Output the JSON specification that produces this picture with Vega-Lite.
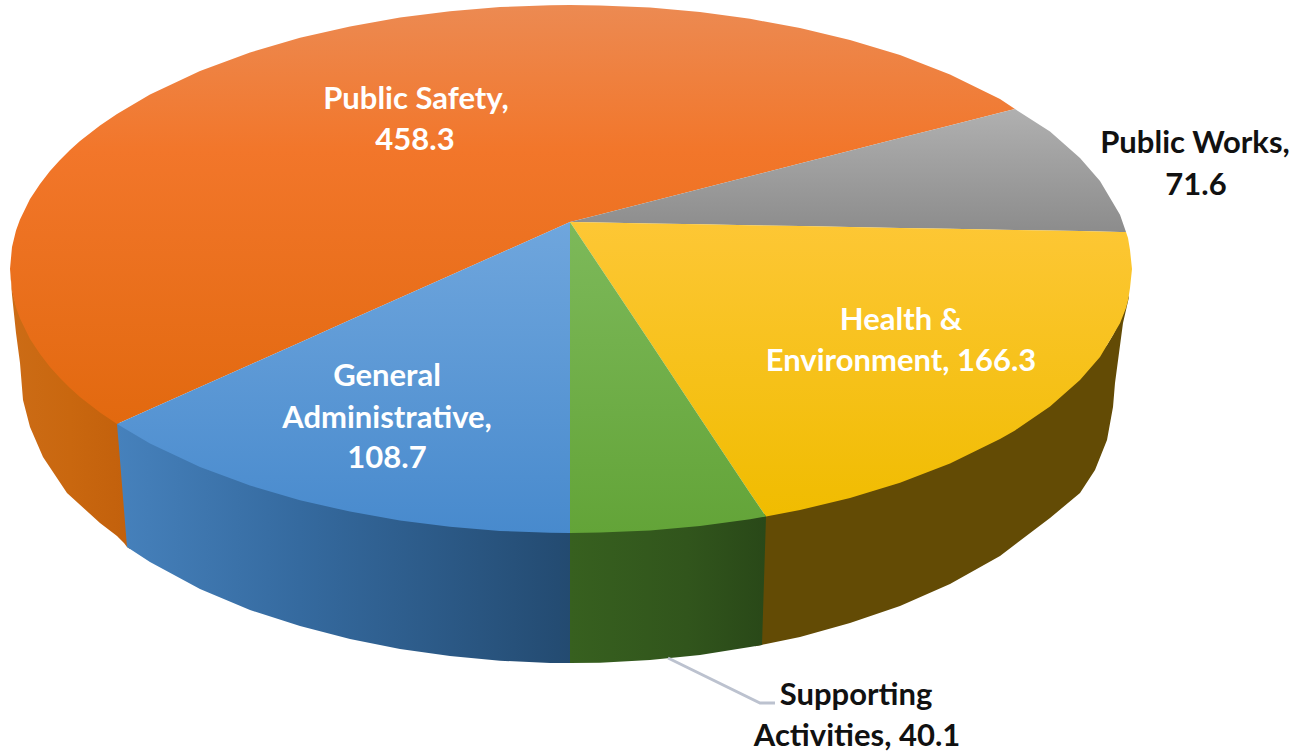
{"$schema":"https://vega.github.io/schema/vega-lite/v6.json","width":1292,"height":754,"padding":0,"autosize":"none","background":"white","config":{"view":{"stroke":null}},
"data":{"values":[
{"p":"safetyTop","x":10,"y":269,"y2":269},{"p":"safetyTop","x":12,"y":247,"y2":291},{"p":"safetyTop","x":16,"y":230.5,"y2":307.5},{"p":"safetyTop","x":20,"y":219.4,"y2":318.6},{"p":"safetyTop","x":30,"y":199,"y2":339},{"p":"safetyTop","x":40,"y":184,"y2":354},{"p":"safetyTop","x":50,"y":171,"y2":367},{"p":"safetyTop","x":60,"y":160,"y2":378},{"p":"safetyTop","x":70,"y":150,"y2":388},{"p":"safetyTop","x":80,"y":141,"y2":397},{"p":"safetyTop","x":100,"y":125.6,"y2":412.4},{"p":"safetyTop","x":117,"y":114,"y2":424},{"p":"safetyTop","x":150,"y":94.5,"y2":409.3},{"p":"safetyTop","x":200,"y":71,"y2":387},{"p":"safetyTop","x":250,"y":52.5,"y2":364.7},{"p":"safetyTop","x":300,"y":37.8,"y2":342.4},{"p":"safetyTop","x":350,"y":26.4,"y2":320.1},{"p":"safetyTop","x":400,"y":17.6,"y2":297.8},{"p":"safetyTop","x":450,"y":11.2,"y2":275.5},{"p":"safetyTop","x":500,"y":7,"y2":253.2},{"p":"safetyTop","x":550,"y":5.2,"y2":230.9},{"p":"safetyTop","x":570,"y":5,"y2":222},{"p":"safetyTop","x":600,"y":5.4,"y2":214.4},{"p":"safetyTop","x":650,"y":7.6,"y2":201.7},{"p":"safetyTop","x":700,"y":12,"y2":189},{"p":"safetyTop","x":750,"y":18.8,"y2":176.3},{"p":"safetyTop","x":800,"y":28,"y2":163.4},{"p":"safetyTop","x":850,"y":40,"y2":150.7},{"p":"safetyTop","x":900,"y":55,"y2":138},{"p":"safetyTop","x":950,"y":74.4,"y2":125.5},{"p":"safetyTop","x":1000,"y":98.9,"y2":112.8},{"p":"safetyTop","x":1015,"y":109,"y2":109},
{"p":"worksTop","x":570,"y":222,"y2":222},{"p":"worksTop","x":600,"y":214.4,"y2":222.5},{"p":"worksTop","x":650,"y":201.7,"y2":223.4},{"p":"worksTop","x":700,"y":189,"y2":224.3},{"p":"worksTop","x":750,"y":176.3,"y2":225.2},{"p":"worksTop","x":800,"y":163.4,"y2":226.1},{"p":"worksTop","x":850,"y":150.7,"y2":227},{"p":"worksTop","x":900,"y":138,"y2":227.9},{"p":"worksTop","x":950,"y":125.5,"y2":228.8},{"p":"worksTop","x":1000,"y":112.8,"y2":229.7},{"p":"worksTop","x":1015,"y":109,"y2":230},{"p":"worksTop","x":1050,"y":131.6,"y2":230.6},{"p":"worksTop","x":1080,"y":158,"y2":231.1},{"p":"worksTop","x":1100,"y":181,"y2":231.5},{"p":"worksTop","x":1120,"y":214.7,"y2":231.9},{"p":"worksTop","x":1126,"y":232,"y2":232},
{"p":"healthTop","x":570,"y":222,"y2":222},{"p":"healthTop","x":600,"y":222.5,"y2":267},{"p":"healthTop","x":650,"y":223.4,"y2":342},{"p":"healthTop","x":700,"y":224.3,"y2":417.7},{"p":"healthTop","x":750,"y":225.2,"y2":493},{"p":"healthTop","x":766,"y":225.5,"y2":516.5},{"p":"healthTop","x":800,"y":226.1,"y2":510},{"p":"healthTop","x":850,"y":227,"y2":498},{"p":"healthTop","x":900,"y":227.9,"y2":482.8},{"p":"healthTop","x":950,"y":228.8,"y2":463.6},{"p":"healthTop","x":1000,"y":229.7,"y2":439},{"p":"healthTop","x":1015,"y":230,"y2":430.4},{"p":"healthTop","x":1050,"y":230.6,"y2":406.4},{"p":"healthTop","x":1080,"y":231.1,"y2":380},{"p":"healthTop","x":1100,"y":231.5,"y2":357},{"p":"healthTop","x":1120,"y":231.9,"y2":323.3},{"p":"healthTop","x":1126,"y":232,"y2":308},{"p":"healthTop","x":1128,"y":238,"y2":300.4},{"p":"healthTop","x":1130,"y":250,"y2":288},{"p":"healthTop","x":1132,"y":269,"y2":269},
{"p":"greenTop","x":570,"y":222,"y2":533},{"p":"greenTop","x":600,"y":267,"y2":532.6},{"p":"greenTop","x":650,"y":342,"y2":530.4},{"p":"greenTop","x":700,"y":417.7,"y2":526},{"p":"greenTop","x":750,"y":493,"y2":519.2},{"p":"greenTop","x":766,"y":516.5,"y2":516.5},
{"p":"blueTop","x":117,"y":424,"y2":424},{"p":"blueTop","x":150,"y":409.3,"y2":443.5},{"p":"blueTop","x":200,"y":387,"y2":467},{"p":"blueTop","x":250,"y":364.7,"y2":485.5},{"p":"blueTop","x":300,"y":342.4,"y2":500.2},{"p":"blueTop","x":350,"y":320.1,"y2":511.6},{"p":"blueTop","x":400,"y":297.8,"y2":520.4},{"p":"blueTop","x":450,"y":275.5,"y2":526.8},{"p":"blueTop","x":500,"y":253.2,"y2":531},{"p":"blueTop","x":550,"y":230.9,"y2":532.8},{"p":"blueTop","x":570,"y":222,"y2":533},
{"p":"safetyWall","x":10,"y":269,"y2":269},{"p":"safetyWall","x":12,"y":289,"y2":295},{"p":"safetyWall","x":16,"y":305,"y2":333},{"p":"safetyWall","x":20,"y":316,"y2":363},{"p":"safetyWall","x":23,"y":323,"y2":400},{"p":"safetyWall","x":30,"y":336,"y2":427},{"p":"safetyWall","x":43,"y":355,"y2":457},{"p":"safetyWall","x":67,"y":382,"y2":493},{"p":"safetyWall","x":100,"y":410,"y2":523},{"p":"safetyWall","x":117,"y":421,"y2":536},{"p":"safetyWall","x":124,"y":426,"y2":543},{"p":"safetyWall","x":127,"y":428,"y2":547},{"p":"safetyWall","x":130,"y":430,"y2":549},
{"p":"blueWall","x":117,"y":424,"y2":424},{"p":"blueWall","x":120,"y":424,"y2":460},{"p":"blueWall","x":124,"y":426,"y2":510},{"p":"blueWall","x":127,"y":428,"y2":547},{"p":"blueWall","x":150,"y":441,"y2":562},{"p":"blueWall","x":200,"y":465,"y2":589},{"p":"blueWall","x":250,"y":483,"y2":610},{"p":"blueWall","x":300,"y":498,"y2":626},{"p":"blueWall","x":350,"y":509,"y2":639},{"p":"blueWall","x":400,"y":518,"y2":649},{"p":"blueWall","x":450,"y":524,"y2":656},{"p":"blueWall","x":500,"y":529,"y2":660.7},{"p":"blueWall","x":550,"y":530,"y2":663},{"p":"blueWall","x":570,"y":531,"y2":663},{"p":"blueWall","x":573,"y":531,"y2":663},
{"p":"healthWall","x":755,"y":515,"y2":646.3},{"p":"healthWall","x":766,"y":514,"y2":644},{"p":"healthWall","x":800,"y":508,"y2":637},{"p":"healthWall","x":850,"y":496,"y2":623},{"p":"healthWall","x":900,"y":480,"y2":606},{"p":"healthWall","x":950,"y":461,"y2":584},{"p":"healthWall","x":1000,"y":437,"y2":556},{"p":"healthWall","x":1050,"y":404,"y2":518},{"p":"healthWall","x":1080,"y":378,"y2":493},{"p":"healthWall","x":1095,"y":360,"y2":470},{"p":"healthWall","x":1107,"y":345,"y2":440},{"p":"healthWall","x":1113,"y":335,"y2":407},{"p":"healthWall","x":1115,"y":331,"y2":383},{"p":"healthWall","x":1123,"y":314,"y2":323},{"p":"healthWall","x":1129,"y":295,"y2":297},
{"p":"greenWall","x":570,"y":531,"y2":663},{"p":"greenWall","x":600,"y":530,"y2":662.8},{"p":"greenWall","x":650,"y":528,"y2":660},{"p":"greenWall","x":700,"y":524,"y2":655},{"p":"greenWall","x":750,"y":517,"y2":647},{"p":"greenWall","x":762,"y":515,"y2":645},{"p":"greenWall","x":764,"y":515,"y2":581},{"p":"greenWall","x":766,"y":514.5,"y2":517}
]},
"encoding":{"x":{"field":"x","type":"quantitative","axis":null,"scale":{"domain":[0,1292],"nice":false,"zero":false}},"y":{"field":"y","type":"quantitative","axis":null,"scale":{"domain":[754,0],"nice":false,"zero":false}},"y2":{"field":"y2"}},
"layer":[
{"transform":[{"filter":"datum.p==='safetyWall'"}],"mark":{"type":"area","color":{"gradient":"linear","x1":0,"y1":0,"x2":1,"y2":0,"stops":[{"offset":0,"color":"#cc6c16"},{"offset":0.5,"color":"#c9670f"},{"offset":1,"color":"#c2600c"}]}}},
{"transform":[{"filter":"datum.p==='blueWall'"}],"mark":{"type":"area","color":{"gradient":"linear","x1":0,"y1":0,"x2":1,"y2":0,"stops":[{"offset":0,"color":"#4681bc"},{"offset":0.4,"color":"#356a9f"},{"offset":1,"color":"#234a70"}]}}},
{"transform":[{"filter":"datum.p==='healthWall'"}],"mark":{"type":"area","color":"#634b05"}},
{"transform":[{"filter":"datum.p==='greenWall'"}],"mark":{"type":"area","color":{"gradient":"linear","x1":0,"y1":0,"x2":1,"y2":0,"stops":[{"offset":0,"color":"#37601f"},{"offset":0.6,"color":"#31551c"},{"offset":1,"color":"#294818"}]}}},
{"transform":[{"filter":"datum.p==='safetyTop'"}],"mark":{"type":"area","color":{"gradient":"linear","x1":0,"y1":0,"x2":0,"y2":1,"stops":[{"offset":0,"color":"#ec8a52"},{"offset":0.35,"color":"#f2762a"},{"offset":1,"color":"#e2690f"}]}}},
{"transform":[{"filter":"datum.p==='worksTop'"}],"mark":{"type":"area","color":{"gradient":"linear","x1":0,"y1":0,"x2":0,"y2":1,"stops":[{"offset":0,"color":"#b0b0b0"},{"offset":1,"color":"#8c8c8c"}]}}},
{"transform":[{"filter":"datum.p==='healthTop'"}],"mark":{"type":"area","color":{"gradient":"linear","x1":0,"y1":0,"x2":0,"y2":1,"stops":[{"offset":0,"color":"#fdc735"},{"offset":1,"color":"#f0bc00"}]}}},
{"transform":[{"filter":"datum.p==='greenTop'"}],"mark":{"type":"area","color":{"gradient":"linear","x1":0,"y1":0,"x2":0,"y2":1,"stops":[{"offset":0,"color":"#7db95a"},{"offset":1,"color":"#63a438"}]}}},
{"transform":[{"filter":"datum.p==='blueTop'"}],"mark":{"type":"area","color":{"gradient":"linear","x1":0,"y1":0,"x2":0,"y2":1,"stops":[{"offset":0,"color":"#6fa6dd"},{"offset":1,"color":"#488acd"}]}}},
{"data":{"values":[{"x":668,"y":658},{"x":760,"y":703},{"x":775,"y":703}]},"mark":{"type":"line","color":"#bcc2cf","strokeWidth":3},"encoding":{"y2":null}},
{"data":{"values":[{"slice":"Public Safety","value":458.3,"x":416,"y":100,"line":"Public Safety,"},{"slice":"Public Safety","value":458.3,"x":415,"y":141,"line":"458.3"},{"slice":"Health & Environment","value":166.3,"x":901,"y":321,"line":"Health &"},{"slice":"Health & Environment","value":166.3,"x":901,"y":362,"line":"Environment, 166.3"},{"slice":"General Administrative","value":108.7,"x":387,"y":377,"line":"General"},{"slice":"General Administrative","value":108.7,"x":387,"y":419,"line":"Administrative,"},{"slice":"General Administrative","value":108.7,"x":387,"y":459,"line":"108.7"}]},"mark":{"type":"text","font":"Lato","fontWeight":"bold","fontSize":31,"color":"#ffffff","align":"center","baseline":"middle"},"encoding":{"y2":null,"text":{"field":"line"}}},
{"data":{"values":[{"slice":"Public Works","value":71.6,"x":1195,"y":144,"line":"Public Works,"},{"slice":"Public Works","value":71.6,"x":1196,"y":186,"line":"71.6"},{"slice":"Supporting Activities","value":40.1,"x":856,"y":696,"line":"Supporting"},{"slice":"Supporting Activities","value":40.1,"x":857,"y":737,"line":"Activities, 40.1"}]},"mark":{"type":"text","font":"Lato","fontWeight":"bold","fontSize":31,"color":"#111111","align":"center","baseline":"middle"},"encoding":{"y2":null,"text":{"field":"line"}}}
]}
